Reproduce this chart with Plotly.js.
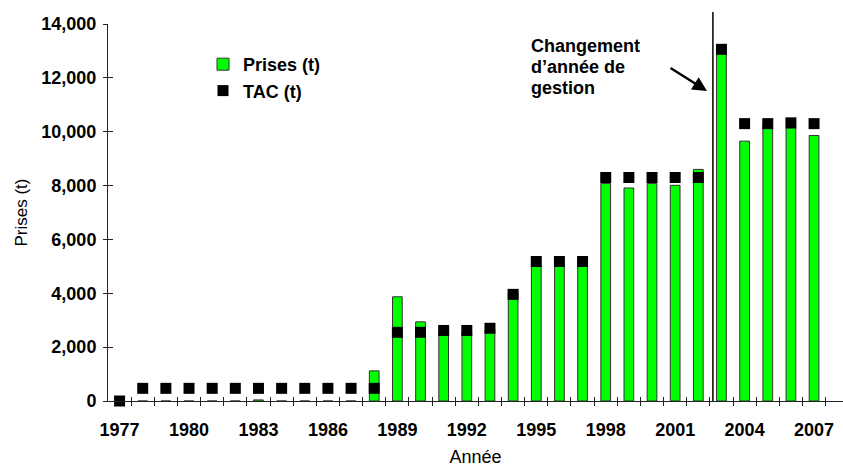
<!DOCTYPE html>
<html>
<head>
<meta charset="utf-8">
<script src="https://cdn.plot.ly/plotly-3.0.1.min.js"></script>
<style>html,body{margin:0;padding:0;background:#fff;overflow:hidden}</style>
</head>
<body>
<div id="chart" style="width:843px;height:467px"></div>
<script>
// ---- data ----
const years = [1977,1978,1979,1980,1981,1982,1983,1984,1985,1986,1987,1988,1989,1990,1991,1992,1993,1994,1995,1996,1997,1998,1999,2000,2001,2002,2003,2004,2005,2006,2007];
const prises = [0,0,0,0,0,0,40,0,0,0,0,1120,3870,2940,2560,2560,2650,4020,5050,5130,5230,8080,7910,8080,8010,8600,12900,9650,10200,10140,9860];
const tac = [0,470,470,470,470,470,470,470,470,470,470,470,2550,2550,2620,2620,2700,3960,5180,5180,5180,8300,8300,8300,8300,8300,13060,10300,10300,10330,10300];
const tickYears = [1977,1980,1983,1986,1989,1992,1995,1998,2001,2004,2007];
const seriesNames = ["Prises (t)", "TAC (t)"];
const noteLines = ["Changement", "d’année de", "gestion"];
const yTitle = "Prises (t)";
const xTitle = "Année";

const FONT = "Arial, 'Liberation Sans', sans-serif";
const halfTicks = years.map(y => y + 0.5);
const xRange = [1976.5, 2008.25];
const yRange = [0, 14000];

const traces = [
  {type:'bar', x:years, y:prises, name:seriesNames[0], width:0.42,
   marker:{color:'#00ff00', line:{color:'#333333', width:1}}},
  {type:'scatter', mode:'markers', x:years, y:tac, name:seriesNames[1], cliponaxis:false,
   marker:{symbol:'square', color:'#000000', size:11, line:{width:0}}},
  {type:'scatter', x:[], y:[], xaxis:'x2', yaxis:'y2', showlegend:false, hoverinfo:'skip'},
  {type:'scatter', x:[], y:[], xaxis:'x3', yaxis:'y2', showlegend:false, hoverinfo:'skip'}
];

const noteY = [46, 67, 88];
const annotations = noteLines.map((t, i) => ({
  text: t, xref:'paper', yref:'paper', x:(529-108)/735, y:(401-noteY[i])/377,
  xanchor:'left', yanchor:'middle', showarrow:false,
  font:{family:FONT, size:18, weight:'bold', color:'#000'}
}));
annotations.push({
  text:'', xref:'paper', yref:'paper', x:(707-108)/735, y:(401-91)/377,
  ax:-38, ay:-24, showarrow:true, arrowhead:2, arrowsize:1.2, arrowwidth:2.4, arrowcolor:'#000'
});

const layout = {
  width:843, height:467,
  margin:{l:108, r:0, t:24, b:66, pad:0},
  paper_bgcolor:'#fff', plot_bgcolor:'#fff',
  font:{family:FONT, color:'#000'},
  showlegend:true,
  legend:{x:(203-108)/735, y:(401-46)/377, xanchor:'left', yanchor:'top',
    font:{family:FONT, size:18, weight:'bold', color:'#000'}, bgcolor:'rgba(0,0,0,0)',
    tracegroupgap:0},
  xaxis:{range:xRange, tickvals:tickYears, ticks:'', showgrid:false, zeroline:false,
    showline:true, linecolor:'#222', linewidth:1,
    tickfont:{family:FONT, size:18, weight:'bold', color:'#000'},
    ticklabelstandoff:12,
    title:{text:xTitle, font:{family:FONT, size:18, color:'#000'}, standoff:17}},
  xaxis2:{overlaying:'x', matches:'x', anchor:'y', tickvals:halfTicks, ticks:'outside', ticklen:4,
    tickcolor:'#222', showticklabels:false, showgrid:false, zeroline:false, showline:false},
  xaxis3:{overlaying:'x', matches:'x', anchor:'y', tickvals:halfTicks, ticks:'inside', ticklen:4,
    tickcolor:'#222', showticklabels:false, showgrid:false, zeroline:false, showline:false},
  yaxis:{range:yRange, dtick:2000, tickformat:',', ticks:'outside', ticklen:4, tickcolor:'#222',
    showgrid:false, zeroline:false, showline:true, linecolor:'#222', linewidth:1,
    ticklabelstandoff:3,
    tickfont:{family:FONT, size:18, weight:'bold', color:'#000'},
    title:{text:yTitle, font:{family:FONT, size:17, color:'#000'}, standoff:9}},
  yaxis2:{overlaying:'y', matches:'y', anchor:'x', dtick:2000, ticks:'inside', ticklen:5,
    tickcolor:'#222', showticklabels:false, showgrid:false, zeroline:false, showline:false},
  shapes:[{type:'line', xref:'x', yref:'paper', x0:2002.63, x1:2002.63, y0:0, y1:(401-12)/377,
    line:{color:'#111', width:1.6}}],
  annotations:annotations,
  bargap:0.5
};

Plotly.newPlot('chart', traces, layout, {displayModeBar:false, staticPlot:true});
</script>
</body>
</html>
